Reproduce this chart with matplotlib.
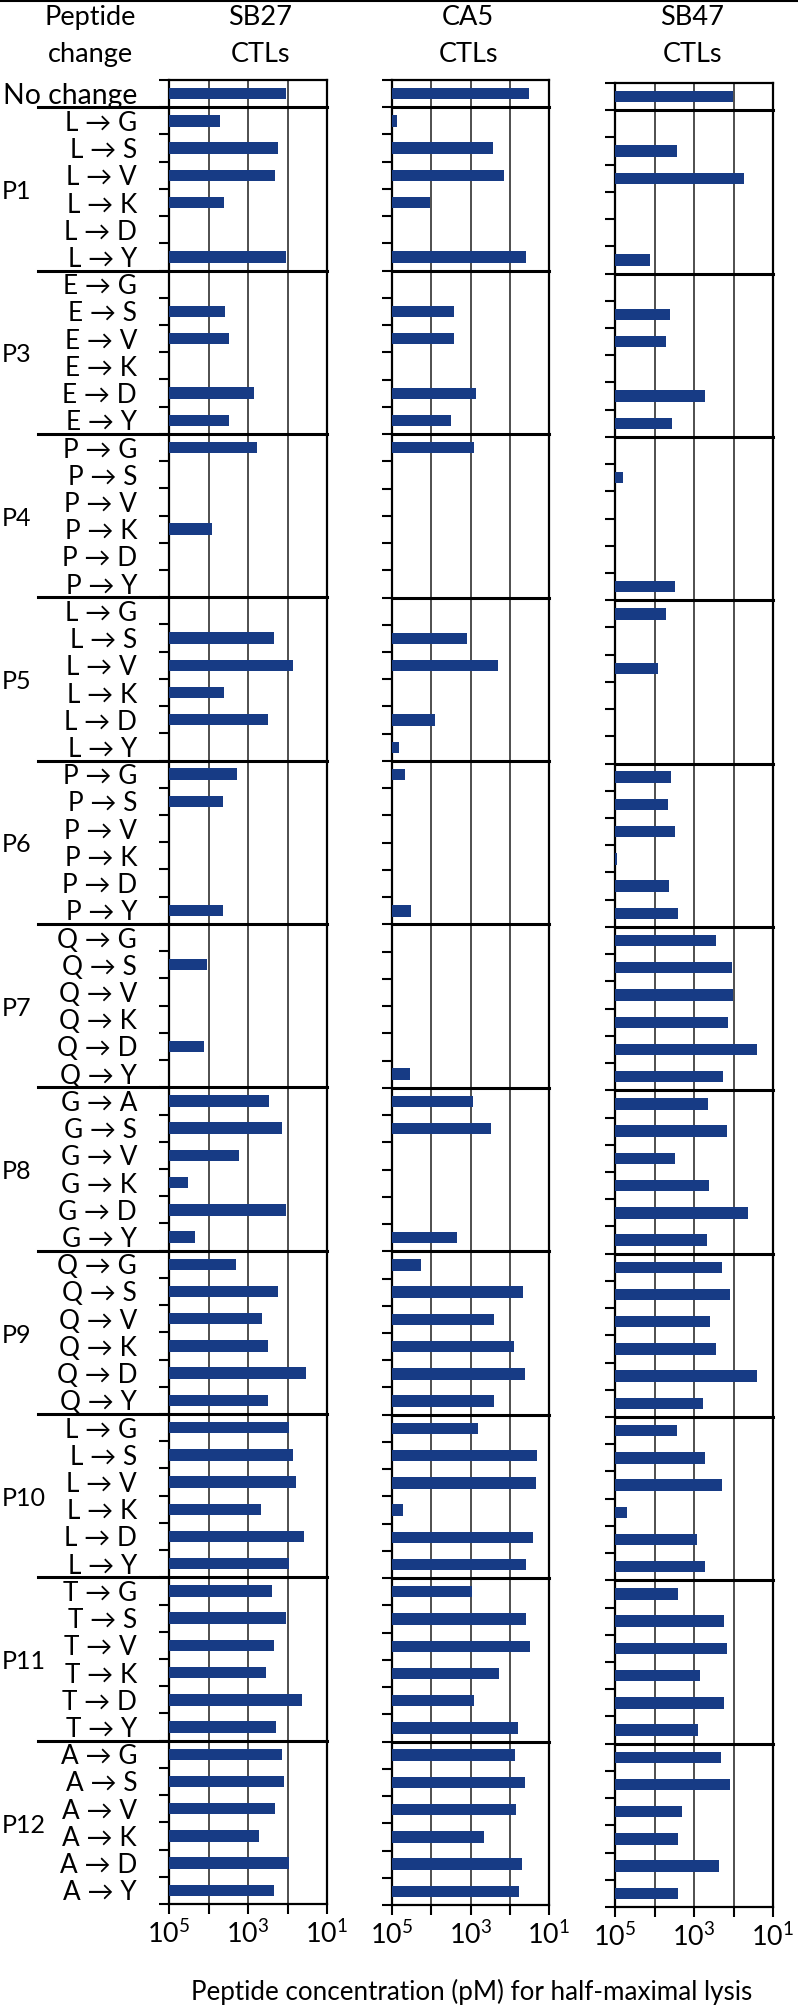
import numpy as np
import matplotlib.pyplot as plt
import matplotlib.transforms as mtransforms
from matplotlib.lines import Line2D
from matplotlib.ticker import NullLocator

plt.rcParams['font.family'] = ['Lato', 'DejaVu Sans']
plt.rcParams['mathtext.default'] = 'regular'

nan = np.nan

# peptide positions that were changed, and the original residue
groups = ['P1', 'P3', 'P4', 'P5', 'P6', 'P7', 'P8', 'P9', 'P10', 'P11', 'P12']
wild = ['L', 'E', 'P', 'L', 'P', 'Q', 'G', 'Q', 'L', 'T', 'A']
new_res = ['G', 'S', 'V', 'K', 'D', 'Y']
new_res_p8 = ['A', 'S', 'V', 'K', 'D', 'Y']

# peptide conc (pM) for half-maximal lysis, first = no change, nan = no bar
sb27 = [110,
        5100, 170, 210, 4100, nan, 110,
        nan, 3800, 3100, nan, 690, 3100,
        590, nan, nan, 8300, nan, nan,
        nan, 220, 72, 4000, 320, nan,
        1900, 4400, nan, nan, nan, 4400,
        nan, 11000, nan, nan, 13000, nan,
        290, 140, 1700, 34000, 110, 22000,
        2000, 170, 430, 310, 34, 310,
        91, 72, 62, 460, 38, 91,
        250, 110, 220, 350, 43, 190,
        135, 126, 210, 520, 93, 220]

ca5 = [33,
       74000, 260, 140, 11000, nan, 38,
       nan, 2600, 2600, nan, 740, 3200,
       810, nan, nan, nan, nan, nan,
       nan, 1260, 200, nan, 8100, 66000,
       46000, nan, nan, nan, nan, 32000,
       nan, nan, nan, nan, nan, 35000,
       870, 295, nan, nan, nan, 2190,
       18000, 45, 250, 78, 40, 250,
       630, 20, 22, 51000, 26, 38,
       930, 38, 31, 190, 830, 62,
       74, 40, 68, 460, 50, 59]

sb47 = [105,
        nan, 2700, 54, nan, nan, 13000,
        nan, 4000, 5000, nan, 525, 3550,
        nan, 62000, nan, nan, nan, 3100,
        5250, nan, 8100, nan, nan, nan,
        3800, 4470, 3100, 89000, 4200, 2570,
        280, 107, 102, 138, 25, 182,
        437, 145, 3000, 407, 44, 479,
        195, 126, 400, 275, 26, 600,
        2700, 537, 195, 51000, 830, 537,
        2570, 174, 145, 692, 174, 813,
        204, 126, 2040, 2570, 234, 2570]

clones = ['SB27', 'CA5', 'SB47']
xlabel = 'Peptide concentration (pM) for half-maximal lysis'

row_labels = ['No change']
for g, wt in zip(groups, wild):
    subs = new_res_p8 if g == 'P8' else new_res
    for s in subs:
        row_labels.append(wt + ' \u2192 ' + s)
n = len(row_labels)
y = np.arange(n)

bar_col = '#173b85'
W, H = 798, 2009
fig = plt.figure(figsize=(W / 100, H / 100), dpi=100)
renderer = fig.canvas.get_renderer()


# font size that makes a string about width_px wide
def fit_size(s, width_px, base=20):
    t = fig.text(0, 0, s, fontsize=base)
    w = t.get_window_extent(renderer).width
    t.remove()
    return base * width_px / w


row_fs = fit_size('L \u2192 G', 72)
nochange_fs = fit_size('No change', 134)
head_fs = fit_size('Peptide', 92)
group_fs = fit_size('P12', 44)
tick_fs = fit_size('$10^{5}$', 43)
xlabel_fs = fit_size(xlabel, 562)

# panel boxes in pixels: left, top, right, bottom
boxes = [(169, 80, 327, 1904), (392, 80, 549, 1905), (615, 83, 773, 1907)]
head_x = [260, 468, 692]
seps = [0.5 + 6 * i for i in range(len(groups))]

axes = []
for k, (data, box) in enumerate(zip([sb27, ca5, sb47], boxes)):
    l, t, r, b = box
    ax = fig.add_axes([l / W, 1 - b / H, (r - l) / W, (b - t) / H])
    vals = np.array(data, dtype=float)
    ok = ~np.isnan(vals)
    ax.barh(y[ok], vals[ok] - 1e5, left=1e5, height=0.42, color=bar_col, zorder=3)

    ax.set_xscale('log')
    ax.set_xlim(1e5, 1e1)
    ax.set_ylim(n - 0.5, -0.5)

    ax.set_xticks([1e5, 1e4, 1e3, 1e2, 1e1])
    ax.set_xticklabels(['$10^{5}$', '', '$10^{3}$', '', '$10^{1}$'], fontsize=tick_fs)
    ax.xaxis.set_minor_locator(NullLocator())
    ax.tick_params(axis='x', length=7, width=1.5, direction='out', pad=5)
    ax.grid(axis='x', color='#404040', lw=1.3)
    ax.set_axisbelow(True)

    ax.set_yticks(y)
    ax.set_yticks(np.arange(n + 1) - 0.5, minor=True)
    ax.tick_params(axis='y', which='major', length=0, pad=23)
    ax.tick_params(axis='y', which='minor', length=7, width=1.5, direction='out')
    if k == 0:
        ax.set_yticklabels(row_labels, fontsize=row_fs)
        ax.get_yticklabels()[0].set_fontsize(nochange_fs)
    else:
        ax.set_yticklabels([])

    for sp in ax.spines.values():
        sp.set_linewidth(1.6)

    # thick lines between the peptide positions
    trans = mtransforms.blended_transform_factory(ax.transAxes, ax.transData)
    x_start = -0.83 if k == 0 else 0
    for yb in seps:
        ax.plot([x_start, 1], [yb, yb], transform=trans, color='black', lw=2.2,
                clip_on=False, zorder=4)

    fig.text(head_x[k] / W, 1 - 25 / H, clones[k], ha='center', va='baseline', fontsize=head_fs)
    fig.text(head_x[k] / W, 1 - 62 / H, 'CTLs', ha='center', va='baseline', fontsize=head_fs)
    axes.append(ax)

# position labels P1 ... P12
ax1 = axes[0]
gtrans = mtransforms.blended_transform_factory(fig.transFigure, ax1.transData)
for i, g in enumerate(groups):
    ax1.text(2 / W, 1 + 6 * i + 2.6, g, transform=gtrans, ha='left', va='center',
             fontsize=group_fs)

fig.text(90 / W, 1 - 25 / H, 'Peptide', ha='center', va='baseline', fontsize=head_fs)
fig.text(90 / W, 1 - 62 / H, 'change', ha='center', va='baseline', fontsize=head_fs)

fig.text(472 / W, 9 / H, xlabel, ha='center', va='baseline', fontsize=xlabel_fs)

fig.add_artist(Line2D([0, 1], [1 - 1 / H, 1 - 1 / H], transform=fig.transFigure,
                      color='black', lw=1.5))

fig.savefig('out.png', dpi=100)
